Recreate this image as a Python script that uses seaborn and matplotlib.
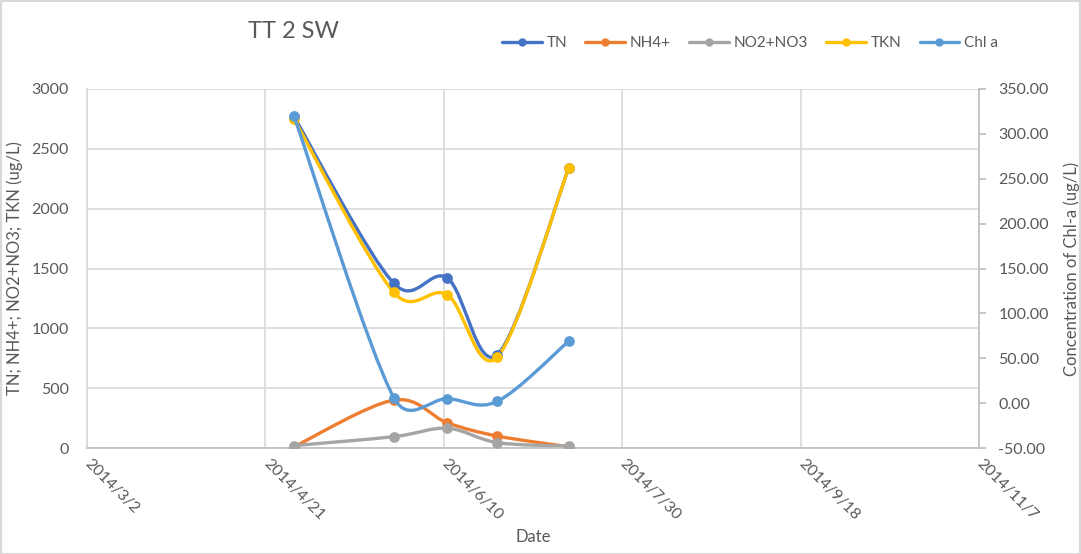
import matplotlib
matplotlib.use("Agg")
import matplotlib.pyplot as plt
import matplotlib.dates as mdates
from matplotlib.path import Path
from matplotlib.patches import PathPatch, Rectangle
from matplotlib.lines import Line2D
import numpy as np
import pandas as pd
import seaborn as sns

# ---- data ----
dates = ["2014-04-29", "2014-05-27", "2014-06-11", "2014-06-25", "2014-07-15"]
tn = [2770, 1375, 1420, 780, 2340]
nh4 = [10, 400, 210, 100, 10]
no2no3 = [20, 95, 165, 45, 15]
tkn = [2750, 1300, 1280, 760, 2340]
chla = [320.0, 6.0, 5.0, 2.0, 69.0]

series_names = ["TN", "NH4+", "NO2+NO3", "TKN", "Chl a"]
colors = ["#4472C4", "#ED7D31", "#A5A5A5", "#FFC000", "#5B9BD5"]

xtick_dates = ["2014-03-02", "2014-04-21", "2014-06-10", "2014-07-30", "2014-09-18", "2014-11-07"]
xtick_labels = ["2014/3/2", "2014/4/21", "2014/6/10", "2014/7/30", "2014/9/18", "2014/11/7"]
left_ticks = [0, 500, 1000, 1500, 2000, 2500, 3000]
right_ticks = [-50, 0, 50, 100, 150, 200, 250, 300, 350]

title = "TT 2 SW"
left_label = "TN; NH4+; NO2+NO3; TKN (ug/L)"
right_label = "Concentration of Chl-a (ug/L)"
x_label = "Date"

# ---- style ----
sns.set_theme(style="white")
plt.rcParams["font.family"] = ["Lato", "DejaVu Sans"]
text_color = "#595959"

W, H = 1081, 554
fig = plt.figure(figsize=(W / 100, H / 100), dpi=100)
fig.patch.set_facecolor("white")
fig.patches.append(Rectangle((0.5 / W, 0.5 / H), 1 - 1.5 / W, 1 - 1.5 / H,
                             transform=fig.transFigure, fill=False,
                             edgecolor="#D9D9D9", linewidth=1.5))

L, R, T, B = 87, 979, 89, 448
ax = fig.add_axes([L / W, 1 - B / H, (R - L) / W, (B - T) / H])
ax2 = ax.twinx()

x = pd.to_datetime(pd.Series(dates))
xnum = mdates.date2num(x)

# axes limits first (smoothing is computed in pixel space)
xt = pd.to_datetime(pd.Series(xtick_dates))
ax.set_xlim(xt.iloc[0], xt.iloc[-1])
ax.set_ylim(0, 3000)
ax2.set_ylim(-50, 350)


def smooth_patch(axis, xs, ys, color, lw):
    tr = axis.transData
    pts = tr.transform(np.column_stack([xs, ys]).astype(float))
    n = len(pts)
    verts = [pts[0]]
    codes = [Path.MOVETO]
    for i in range(n - 1):
        p0 = pts[i - 1] if i > 0 else pts[i]
        p1 = pts[i]
        p2 = pts[i + 1]
        p3 = pts[i + 2] if i + 2 < n else pts[i + 1]
        seg = np.linalg.norm(p2 - p1)
        t1 = (p2 - p0) / 6.0
        t2 = (p3 - p1) / 6.0
        cap = 0.6 * seg
        n1, n2 = np.linalg.norm(t1), np.linalg.norm(t2)
        if n1 > cap:
            t1 = t1 * cap / n1
        if n2 > cap:
            t2 = t2 * cap / n2
        verts += [p1 + t1, p2 - t2, p2]
        codes += [Path.CURVE4] * 3
    data_verts = tr.inverted().transform(np.array(verts))
    return PathPatch(Path(data_verts, codes), facecolor="none", edgecolor=color,
                     linewidth=lw, capstyle="round", joinstyle="round")


lw = 2.4
ms = 60
primary = [tn, nh4, no2no3, tkn]
for k, vals in enumerate(primary):
    ax.add_patch(smooth_patch(ax, xnum, vals, colors[k], lw))
    sns.scatterplot(x=x, y=vals, ax=ax, color=colors[k], s=ms, linewidth=0,
                    legend=False, zorder=3 + k * 0.1)
ax2.add_patch(smooth_patch(ax2, xnum, chla, colors[4], lw))
sns.scatterplot(x=x, y=chla, ax=ax2, color=colors[4], s=ms, linewidth=0,
                legend=False, zorder=4)

# axes limits/ticks
ax.set_xlim(xt.iloc[0], xt.iloc[-1])
ax.set_xticks(xt)
ax.set_xticklabels(xtick_labels, rotation=-45, ha="left", va="center",
                   rotation_mode="anchor", color=text_color, fontsize=11.5)
ax.set_ylim(0, 3000)
ax.set_yticks(left_ticks)
ax.set_yticklabels([str(v) for v in left_ticks], color=text_color, fontsize=11.5)
ax2.set_ylim(-50, 350)
ax2.set_yticks(right_ticks)
ax2.set_yticklabels([f"{v:.2f}" for v in right_ticks], color=text_color, fontsize=11.5)

ax.grid(True, color="#D9D9D9", linewidth=1.2)
ax.set_axisbelow(True)
ax2.grid(False)
for sp in ["top", "right"]:
    ax.spines[sp].set_visible(False)
ax.spines["left"].set_color("#D9D9D9")
ax.spines["bottom"].set_color("#BFBFBF")
ax.spines["bottom"].set_linewidth(1.2)
for sp in ["top", "left", "bottom"]:
    ax2.spines[sp].set_visible(False)
ax2.spines["right"].set_color("#BFBFBF")
ax2.spines["right"].set_linewidth(1.2)
ax.tick_params(axis="y", length=0, pad=13)
ax.tick_params(axis="x", length=0, pad=10)
ax2.tick_params(axis="y", length=5, color="#BFBFBF", direction="out", pad=9)

ax.set_ylabel(left_label, color=text_color, fontsize=12, labelpad=6)
ax2.set_ylabel(right_label, color=text_color, fontsize=12, labelpad=10)
ax.set_xlabel(x_label, color=text_color, fontsize=12, labelpad=2)
ax.xaxis.set_label_coords(0.5, -(529 - B) / (B - T))

fig.text(293 / W, 1 - 32 / H, title, ha="center", va="center",
         fontsize=17, color=text_color)

handles = [Line2D([0], [0], color=c, lw=lw, marker="o", markersize=5)
           for c in colors]
fig.legend(handles, series_names, loc="center", ncol=5, frameon=False,
           bbox_to_anchor=(750 / W, 1 - 43 / H), fontsize=11,
           handlelength=2.6, handletextpad=0.3, columnspacing=1.2,
           labelcolor=text_color)

fig.savefig("out.png", dpi=100)
